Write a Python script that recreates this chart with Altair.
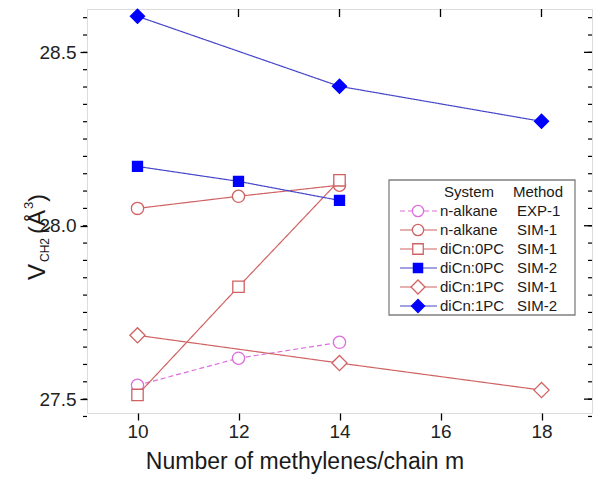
import altair as alt
import pandas as pd

# ---------------- data ----------------
m3 = [10, 12, 14]
m1pc = [10, 14, 18]
alkane_exp1 = [27.540, 27.618, 27.664]
alkane_sim1 = [28.050, 28.085, 28.117]
dic0pc_sim1 = [27.512, 27.824, 28.131]
dic0pc_sim2 = [28.171, 28.128, 28.073]
dic1pc_sim1 = [27.684, 27.604, 27.526]
dic1pc_sim2 = [28.604, 28.402, 28.301]

legend_system = ["n-alkane", "n-alkane", "diCn:0PC", "diCn:0PC", "diCn:1PC", "diCn:1PC"]
legend_method = ["EXP-1", "SIM-1", "SIM-1", "SIM-2", "SIM-1", "SIM-2"]

x_ticks = [10, 12, 14, 16, 18]
y_ticks = [27.5, 28.0, 28.5]
y_minor = [round(27.45 + 0.05 * i, 2) for i in range(0, 24)]

# ---------------- styling ----------------
W, H = 505, 404
FONT = "Liberation Sans"
PINK = "#DD6EDD"
RED = "#D06262"
BLUE_L = "#4646C8"
BLUE_M = "#0000FF"

xs = alt.Scale(domain=[9, 19], nice=False, zero=False)
ys = alt.Scale(domain=[27.46, 28.625], nice=False, zero=False)

one = pd.DataFrame({"a": [0]})

styles = [
    # x, y, line colour, dash, shape, filled, marker colour, size
    (m3, alkane_exp1, PINK, [5, 3], "circle", False, PINK, 150),
    (m3, alkane_sim1, RED, [1, 0], "circle", False, RED, 150),
    (m3, dic0pc_sim1, RED, [1, 0], "square", False, RED, 130),
    (m3, dic0pc_sim2, BLUE_L, [1, 0], "square", True, BLUE_M, 100),
    (m1pc, dic1pc_sim1, RED, [1, 0], "diamond", False, RED, 230),
    (m1pc, dic1pc_sim2, BLUE_L, [1, 0], "diamond", True, BLUE_M, 200),
]

layers = []

# axes layer (bottom x, left y)
axes_df = pd.DataFrame({"x": [9, 19], "y": [27.46, 28.625]})
axes = alt.Chart(axes_df).mark_point(opacity=0).encode(
    x=alt.X("x:Q", scale=xs, axis=alt.Axis(values=x_ticks, title=None, grid=False, domain=False,
                                            tickSize=7, tickWidth=1.3, tickColor="black",
                                            labelFont=FONT, labelFontSize=19, labelColor="#222",
                                            labelPadding=2)),
    y=alt.Y("y:Q", scale=ys, axis=alt.Axis(values=y_ticks, format=".1f", title=None, grid=False,
                                            domain=False, tickSize=7, tickWidth=1.3,
                                            tickColor="black", labelFont=FONT, labelFontSize=19,
                                            labelColor="#222", labelPadding=4)),
)
layers.append(axes)

# minor / mirrored ticks
ymin_df = pd.DataFrame({"y": y_minor})
ymaj_df = pd.DataFrame({"y": y_ticks})
xt_df = pd.DataFrame({"x": x_ticks})
layers.append(alt.Chart(ymin_df).mark_rule(color="black", strokeWidth=1.2).encode(
    y=alt.Y("y:Q", scale=ys), x=alt.value(-4), x2=alt.value(0)))
layers.append(alt.Chart(ymin_df).mark_rule(color="black", strokeWidth=1.2).encode(
    y=alt.Y("y:Q", scale=ys), x=alt.value(W - 4), x2=alt.value(W)))
layers.append(alt.Chart(ymaj_df).mark_rule(color="black", strokeWidth=1.3).encode(
    y=alt.Y("y:Q", scale=ys), x=alt.value(W - 8), x2=alt.value(W)))
layers.append(alt.Chart(xt_df).mark_rule(color="black", strokeWidth=1.3).encode(
    x=alt.X("x:Q", scale=xs), y=alt.value(0), y2=alt.value(8)))

# series
for xv, yv, lc, dash, shape, filled, mc, size in styles:
    df = pd.DataFrame({"x": xv, "y": yv})
    base = alt.Chart(df).encode(x=alt.X("x:Q", scale=xs), y=alt.Y("y:Q", scale=ys))
    layers.append(base.mark_line(color=lc, strokeWidth=1.2, strokeDash=dash))
    layers.append(base.mark_point(shape=shape, size=size, strokeWidth=1.3, opacity=1,
                                  fillOpacity=1, stroke=mc,
                                  fill=mc if filled else "white", filled=True))

# legend box
LX0, LX1, LY0, LY1 = 302, 488, 171, 306
layers.append(alt.Chart(one).mark_rect(fill="white", stroke="#808080", strokeWidth=1.3).encode(
    x=alt.value(LX0), x2=alt.value(LX1), y=alt.value(LY0), y2=alt.value(LY1)))
layers.append(alt.Chart(one).mark_text(text="System", font=FONT, fontSize=15, align="left",
                                       baseline="middle", color="#1a1a1a").encode(
    x=alt.value(357), y=alt.value(183)))
layers.append(alt.Chart(one).mark_text(text="Method", font=FONT, fontSize=15, align="left",
                                       baseline="middle", color="#1a1a1a").encode(
    x=alt.value(426), y=alt.value(183)))
for i, (sysname, meth) in enumerate(zip(legend_system, legend_method)):
    _, _, lc, dash, shape, filled, mc, size = styles[i]
    ry = 202 + i * 19
    layers.append(alt.Chart(one).mark_rule(color=lc, strokeWidth=1.2, strokeDash=dash).encode(
        x=alt.value(313), x2=alt.value(350), y=alt.value(ry)))
    layers.append(alt.Chart(one).mark_point(shape=shape, size=size * 0.85, strokeWidth=1.3,
                                            opacity=1, fillOpacity=1, stroke=mc,
                                            fill=mc if filled else "white", filled=True).encode(
        x=alt.value(331), y=alt.value(ry)))
    layers.append(alt.Chart(one).mark_text(text=sysname, font=FONT, fontSize=15, align="left",
                                           baseline="middle", color="#1a1a1a").encode(
        x=alt.value(353), y=alt.value(ry)))
    layers.append(alt.Chart(one).mark_text(text=meth, font=FONT, fontSize=15, align="left",
                                           baseline="middle", color="#1a1a1a").encode(
        x=alt.value(430), y=alt.value(ry)))

# axis titles
def txt(t, x, y, size, angle=0, align="left"):
    return alt.Chart(one).mark_text(text=t, font=FONT, fontSize=size, angle=angle, align=align,
                                    baseline="middle", color="#1a1a1a").encode(
        x=alt.value(x), y=alt.value(y))

layers.append(txt("Number of methylenes/chain m", 218, 453, 23, align="center"))
layers.append(txt("V", -49, 271, 24, angle=270))
layers.append(txt("CH2", -42, 253, 12, angle=270))
layers.append(txt("(Å", -49, 225, 24, angle=270))
layers.append(txt("3", -58, 200, 13, angle=270))
layers.append(txt(")", -49, 193, 24, angle=270))

chart = alt.layer(*layers).properties(
    width=W, height=H,
    autosize=alt.AutoSizeParams(type="none"),
    padding={"left": 79, "top": 1, "right": 1, "bottom": 61},
).configure_view(stroke="black", strokeWidth=1.5).configure(background="white")

chart.save("out.html", embed_options={"renderer": "svg", "actions": False})
